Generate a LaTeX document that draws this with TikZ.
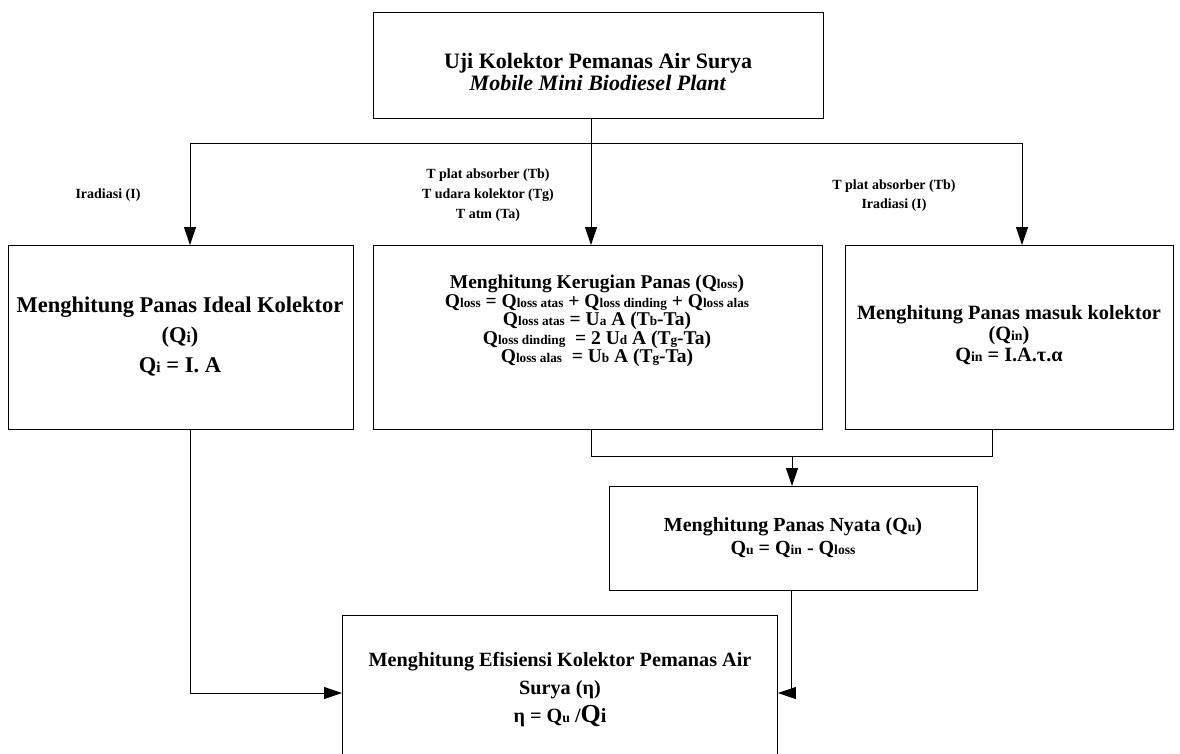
\documentclass[tikz,border=0pt]{standalone}
\usepackage{fontspec}
\setmainfont{Liberation Serif}
\usetikzlibrary{arrows.meta}
\newcommand\smq[1]{\scalebox{0.68}{#1}}
\begin{document}
\begin{tikzpicture}[x=1pt,y=-1pt,
  box/.style={draw, line width=0.9pt, inner sep=0pt, anchor=north west},
  txt/.style={align=center, inner sep=0pt},
  conn/.style={line width=0.9pt},
  arr/.style={conn, -{Triangle[length=18pt,width=12pt]}}]
\useasboundingbox (0,0) rectangle (1180,753);
% boxes
\node[box, minimum width=450pt, minimum height=106pt] (top) at (373,12) {};
\node[box, minimum width=345pt, minimum height=184pt] (L) at (8,245) {};
\node[box, minimum width=449pt, minimum height=184pt] (M) at (373,245) {};
\node[box, minimum width=328pt, minimum height=184pt] (R) at (845,245) {};
\node[box, minimum width=368pt, minimum height=104pt] (Qu) at (609,486) {};
\node[box, minimum width=435pt, minimum height=160pt] (E) at (342,615) {};
% texts
\node[txt, font=\fontsize{22}{22}\selectfont\bfseries] (ttop) at (598,72)
  {Uji Kolektor Pemanas Air Surya\\\textit{Mobile Mini Biodiesel Plant}};
\node[txt, font=\fontsize{22.5}{30}\selectfont\bfseries] (tL) at (180,337)
  {Menghitung Panas Ideal Kolektor\\(Q\smq{i})\\Q\smq{i} = I. A};
\node[txt, font=\fontsize{19.5}{18.5}\selectfont\bfseries] (tM) at (597,321)
  {Menghitung Kerugian Panas (Q\smq{loss})\\
   Q\smq{loss} = Q\smq{loss atas} + Q\smq{loss dinding} + Q\smq{loss alas}\\
   Q\smq{loss atas} = U\smq{a} A (T\smq{b}-Ta)\\
   Q\smq{loss dinding}\ \ = 2 U\smq{d} A (T\smq{g}-Ta)\\
   Q\smq{loss alas}\ \ = U\smq{b} A (T\smq{g}-Ta)};
\node[txt, font=\fontsize{20.3}{21}\selectfont\bfseries] (tR) at (1009,335)
  {Menghitung Panas masuk kolektor\\(Q\smq{in})\\Q\smq{in} = I.A.τ.α};
\node[txt, font=\fontsize{20}{23}\selectfont\bfseries] (tQu) at (793,538)
  {Menghitung Panas Nyata (Q\smq{u})\\Q\smq{u} = Q\smq{in} - Q\smq{loss}};
\node[txt, font=\fontsize{20.2}{28}\selectfont\bfseries] (tE) at (560,690)
  {Menghitung Efisiensi Kolektor Pemanas Air\\Surya (η)\\η = Q\smq{u} /{\fontsize{26}{26}\selectfont Q}i};
% labels
\node[txt, font=\fontsize{14}{20}\selectfont\bfseries] (l1) at (108,195) {Iradiasi (I)};
\node[txt, font=\fontsize{14}{20}\selectfont\bfseries] (l2) at (488,195)
  {T plat absorber (Tb)\\T udara kolektor (Tg)\\T atm (Ta)};
\node[txt, font=\fontsize{14}{19}\selectfont\bfseries] (l3) at (894,196)
  {T plat absorber (Tb)\\Iradiasi (I)};
% connector points
\coordinate (jt) at (591,143);
\coordinate (hl) at (190,143);
\coordinate (hr) at (1022,143);
\coordinate (bm) at (591,456);
\coordinate (br) at (992,456);
\coordinate (bq) at (792,456);
\coordinate (ll) at (190,693);
\coordinate (rr) at (791,693);
% connectors
\draw[conn] (top.south -| jt) -- (jt);
\draw[conn] (hl) -- (hr);
\draw[arr] (hl) -- (L.north -| hl);
\draw[arr] (jt) -- (M.north -| jt);
\draw[arr] (hr) -- (R.north -| hr);
\draw[conn] (M.south -| bm) -- (bm) -- (br) -- (R.south -| br);
\draw[arr] (bq) -- (Qu.north -| bq);
\draw[arr] (L.south -| ll) -- (ll) -- (E.west |- ll);
\draw[arr] (Qu.south -| rr) -- (rr) -- (E.east |- rr);
\end{tikzpicture}
\end{document}
